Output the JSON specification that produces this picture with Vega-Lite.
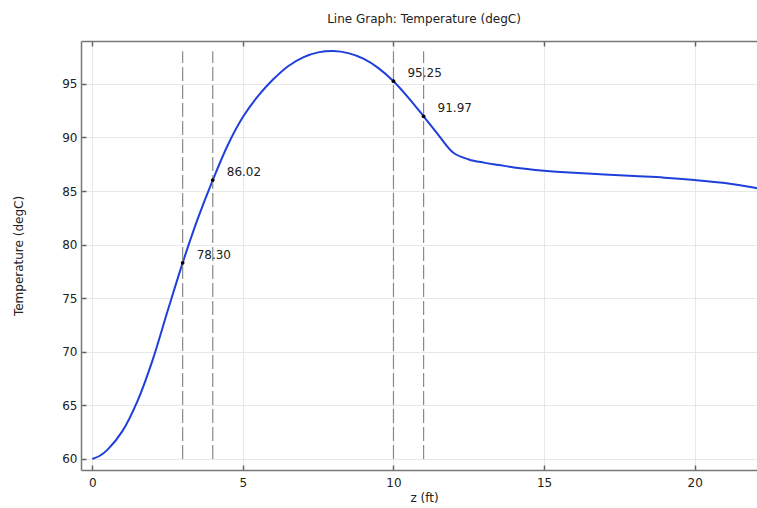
{
  "$schema": "https://vega.github.io/schema/vega-lite/v6.json",
  "width": 676,
  "height": 429,
  "autosize": {"type": "none"},
  "padding": {"left": 81, "top": 41, "right": 0, "bottom": 38},
  "background": "white",
  "config": {
    "font": "DejaVu Sans",
    "view": {"stroke": null},
    "axis": {
      "labelFont": "DejaVu Sans",
      "titleFont": "DejaVu Sans",
      "labelFontSize": 12,
      "titleFontSize": 12,
      "titleFontWeight": "normal",
      "labelColor": "#222",
      "titleColor": "#222",
      "domainColor": "#777",
      "domainWidth": 1.5,
      "tickColor": "#666",
      "tickWidth": 1.5,
      "gridColor": "#e8e8e8",
      "gridWidth": 1
    }
  },
  "title": {
    "text": "Line Graph: Temperature (degC)",
    "font": "DejaVu Sans",
    "fontSize": 12,
    "fontWeight": "normal",
    "color": "#222",
    "anchor": "middle",
    "dx": 5,
    "offset": 14
  },
  "datasets": {
    "curve": [
      {"z": 0, "T": 60.0},
      {"z": 0.25, "T": 60.3},
      {"z": 0.5, "T": 60.85},
      {"z": 1.0, "T": 62.6},
      {"z": 1.5, "T": 65.4},
      {"z": 2.0, "T": 69.2},
      {"z": 2.5, "T": 73.8},
      {"z": 3.0, "T": 78.3},
      {"z": 3.5, "T": 82.4},
      {"z": 4.0, "T": 86.02},
      {"z": 4.5, "T": 89.3},
      {"z": 5.0, "T": 91.9},
      {"z": 5.5, "T": 93.85},
      {"z": 6.0, "T": 95.4},
      {"z": 6.5, "T": 96.65},
      {"z": 7.0, "T": 97.48},
      {"z": 7.5, "T": 97.94},
      {"z": 8.0, "T": 98.07},
      {"z": 8.5, "T": 97.87},
      {"z": 9.0, "T": 97.35},
      {"z": 9.5, "T": 96.47},
      {"z": 10.0, "T": 95.25},
      {"z": 10.5, "T": 93.7},
      {"z": 11.0, "T": 91.97},
      {"z": 11.5, "T": 90.2},
      {"z": 12.0, "T": 88.55},
      {"z": 12.5, "T": 87.95},
      {"z": 13.0, "T": 87.65},
      {"z": 13.5, "T": 87.43},
      {"z": 14.0, "T": 87.2},
      {"z": 15.0, "T": 86.9},
      {"z": 16.0, "T": 86.7},
      {"z": 17.0, "T": 86.55},
      {"z": 18.0, "T": 86.4},
      {"z": 19.0, "T": 86.25},
      {"z": 20.0, "T": 86.03},
      {"z": 21.0, "T": 85.75},
      {"z": 22.0, "T": 85.3},
      {"z": 22.5, "T": 85.0}
    ],
    "marks": [
      {"z": 3, "T": 78.30},
      {"z": 4, "T": 86.02},
      {"z": 10, "T": 95.25},
      {"z": 11, "T": 91.97}
    ]
  },
  "layer": [
    {
      "data": {"name": "curve"},
      "mark": {"type": "line", "color": "#1f3fdc", "strokeWidth": 2, "interpolate": "catmull-rom", "clip": true},
      "encoding": {
        "x": {
          "field": "z", "type": "quantitative",
          "scale": {"domain": [-0.375, 22.07], "nice": false, "zero": false},
          "axis": {
            "orient": "bottom", "title": "z (ft)", "values": [0, 5, 10, 15, 20],
            "tickSize": -5, "labelPadding": 12, "grid": true,
            "titleX": 343, "titleY": 27, "titleBaseline": "middle"
          }
        },
        "y": {
          "field": "T", "type": "quantitative",
          "scale": {"domain": [58.97, 99.0], "nice": false, "zero": false},
          "axis": {
            "title": "Temperature (degC)", "values": [60, 65, 70, 75, 80, 85, 90, 95],
            "tickSize": -5, "labelPadding": 9, "grid": true,
            "titleX": -63, "titleBaseline": "middle"
          }
        }
      }
    },
    {
      "data": {"name": "marks"},
      "mark": {"type": "rule", "color": "#8a8a8a", "strokeWidth": 1.2, "strokeDash": [14, 4]},
      "encoding": {
        "x": {
          "field": "z", "type": "quantitative",
          "axis": {"orient": "top", "title": null, "labels": false, "values": [0, 5, 10, 15, 20], "tickSize": -5, "grid": false}
        },
        "y": {"datum": 60},
        "y2": {"datum": 98.05}
      }
    },
    {
      "data": {"name": "marks"},
      "mark": {"type": "point", "filled": true, "color": "black", "size": 14, "opacity": 1},
      "encoding": {
        "x": {"field": "z", "type": "quantitative", "axis": null},
        "y": {"field": "T", "type": "quantitative"}
      }
    },
    {
      "data": {"name": "marks"},
      "mark": {"type": "text", "align": "left", "baseline": "middle", "dx": 14, "dy": -8, "fontSize": 12, "font": "DejaVu Sans", "color": "#222"},
      "encoding": {
        "x": {"field": "z", "type": "quantitative", "axis": null},
        "y": {"field": "T", "type": "quantitative"},
        "text": {"field": "T", "type": "quantitative", "format": ".2f"}
      }
    }
  ],
  "resolve": {"axis": {"x": "independent"}}
}
